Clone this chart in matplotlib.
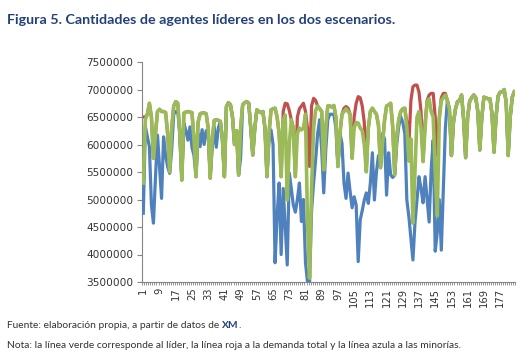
import matplotlib
matplotlib.use('Agg')
import matplotlib.pyplot as plt
import numpy as np

# ---------------- data (values in thousands) ----------------
categories = list(range(1, 185))

lider = [
    5300, 6450, 6550, 6750, 6500, 5750, 6200, 6600, 6640, 6600,
    6600, 6580, 6200, 5500, 6300, 6700, 6780, 6750, 6200, 5355,
    6570, 6590, 6600, 6590, 6580, 6100, 5415, 6400, 6555, 6575,
    6575, 6560, 6300, 5390, 6100, 6440, 6450, 6440, 6420, 6100,
    5415, 6690, 6760, 6720, 6500, 6000, 6250, 5445, 6300, 6720,
    6760, 6780, 6750, 6300, 5810, 6300, 6630, 6600, 6580, 6600,
    6300, 5415, 6200, 6630, 6650, 6660, 6500, 6200, 5415, 6445,
    6535, 4990, 6000, 6450, 6300, 5415, 6200, 6300, 6265, 6300,
    6550, 4600, 3570, 5200, 6300, 6620, 6700, 6650, 6600, 5540,
    6300, 6700, 6700, 6680, 6710, 6500, 5600, 6200, 6550, 6600,
    6650, 6600, 6550, 5750, 6300, 6400, 6390, 6300, 6250, 6000,
    5505, 6300, 6600, 6660, 6600, 6550, 6350, 5580, 6000, 6440,
    6700, 6720, 6750, 6330, 5450, 6140, 6450, 6600, 6650, 6660,
    6300, 5700, 6100, 4570, 5500, 6500, 6600, 6300, 5690, 6300,
    6780, 6830, 6600, 6500, 5500, 4700, 6460, 6800, 6850, 6900,
    6800, 6640, 5800, 6400, 6650, 6780, 6800, 6900, 6460, 5760,
    6500, 6790, 6850, 6900, 6850, 6600, 5900, 6500, 6860, 6850,
    6830, 6830, 6560, 5860, 6500, 6880, 6950, 6950, 7000, 6770,
    5800, 6500, 6860, 6960,
]

demanda_total = [
    6500, 6500, 6550, 6750, 6500, 5750, 6200, 6600, 6640, 6600,
    6600, 6580, 6200, 5500, 6300, 6700, 6780, 6750, 6200, 5355,
    6570, 6590, 6600, 6590, 6580, 6100, 5415, 6400, 6555, 6575,
    6575, 6560, 6300, 5390, 6100, 6440, 6450, 6440, 6420, 6100,
    5415, 6690, 6760, 6720, 6500, 6000, 6250, 5445, 6300, 6720,
    6760, 6780, 6750, 6300, 5810, 6300, 6630, 6600, 6580, 6600,
    6300, 5415, 6200, 6630, 6650, 6660, 6500, 6200, 5415, 6600,
    6750, 6740, 6620, 6450, 6300, 5415, 6500, 6650, 6700, 6750,
    6600, 6300, 5600, 6700, 6840, 6800, 6700, 6650, 6600, 5540,
    6300, 6700, 6700, 6680, 6710, 6500, 5600, 6200, 6550, 6660,
    6690, 6660, 6550, 5750, 6500, 6750, 6870, 6850, 6700, 6400,
    5505, 6300, 6600, 6660, 6600, 6550, 6350, 5580, 6000, 6440,
    6700, 6720, 6750, 6330, 5450, 6140, 6450, 6600, 6650, 6660,
    6400, 6000, 6800, 7050, 7080, 7080, 6950, 6600, 5690, 6400,
    6800, 6900, 6930, 6930, 6500, 5800, 6500, 6850, 6930, 6930,
    6800, 6640, 5800, 6400, 6650, 6780, 6800, 6900, 6460, 5760,
    6500, 6790, 6850, 6900, 6850, 6600, 5900, 6500, 6860, 6850,
    6830, 6830, 6560, 5860, 6500, 6880, 6950, 6950, 7000, 6770,
    5800, 6500, 6860, 6960,
]

minorias = [
    4750, 6325, 6140, 5960, 4900, 4570, 5400, 6170, 5600, 5020,
    6140, 5800, 5595, 5475, 5900, 6550, 6600, 6600, 6200, 5355,
    6390, 6250, 6080, 6320, 5950, 5800, 5415, 6200, 5960, 6270,
    6000, 6250, 6200, 5390, 5950, 6320, 5950, 6300, 6420, 6100,
    5415, 6690, 6760, 6720, 6500, 6000, 6250, 5445, 5750, 6720,
    6760, 6780, 6750, 6300, 5810, 6300, 6630, 6600, 6580, 6600,
    6300, 5415, 6100, 6265, 6000, 3850, 4700, 5300, 4000, 5200,
    4500, 3810, 5480, 5200, 4900, 4770, 5000, 5300, 4600, 5000,
    3850, 3500, 3480, 4800, 5300, 5720, 6200, 6450, 5900, 5120,
    5900, 6450, 6550, 6550, 6550, 6300, 5600, 6200, 6020, 5300,
    5020, 5480, 5150, 4850, 5050, 4900, 3870, 4630, 4800, 4990,
    5120, 4930, 5300, 5850, 4990, 5500, 5800, 5580, 6200, 6100,
    5080, 5850, 5450, 5400, 5445, 6000, 6330, 6505, 6400, 6200,
    4990, 4690, 4300, 3900, 4570, 5000, 5415, 5200, 4940, 5415,
    5000, 4590, 5540, 6080, 4060, 4400, 5000, 4080, 5200, 6300,
    6800, 6640, 5800, 6400, 6650, 6780, 6800, 6900, 6460, 5760,
    6500, 6790, 6850, 6900, 6850, 6600, 5900, 6500, 6860, 6850,
    6830, 6830, 6560, 5860, 6500, 6880, 6950, 6950, 7000, 6770,
    5800, 6500, 6860, 6960,
]

yticks = [3500000, 4000000, 4500000, 5000000, 5500000,
          6000000, 6500000, 7000000, 7500000]
label_cats = categories[::8]

title = "Figura 5. Cantidades de agentes líderes en los dos escenarios."
fuente = "Fuente: elaboración propia, a partir de datos de "
nota = ("Nota: la línea verde corresponde al líder, la línea roja a la "
        "demanda total y la línea azula a las minorías.")

# ---------------- figure ----------------
W, H = 530, 363
fig = plt.figure(figsize=(W / 100, H / 100), dpi=100)
ax = fig.add_axes([142.3 / W, 1 - 282 / H, 373 / W, 220 / H])

x = np.array(categories)
ax.plot(x, np.array(demanda_total) * 1000, color='#C0504D', lw=2.3,
        solid_joinstyle='round', zorder=2)
ax.plot(x, np.array(minorias) * 1000, color='#4F81BD', lw=2.3,
        solid_joinstyle='round', zorder=3)
ax.plot(x, np.array(lider) * 1000, color='#9BBB59', lw=2.6,
        solid_joinstyle='round', zorder=4)

ax.set_xlim(0.5, len(categories) + 0.5)
ax.set_ylim(yticks[0], yticks[-1])

axis_gray = '#868686'
for s in ['top', 'right']:
    ax.spines[s].set_visible(False)
for s in ['left', 'bottom']:
    ax.spines[s].set_color(axis_gray)
    ax.spines[s].set_linewidth(0.8)

ax.set_yticks(yticks)
ax.set_yticklabels([str(v) for v in yticks], fontsize=7.6,
                   family='DejaVu Sans', color='#333333')
ax.tick_params(axis='y', length=3.5, color=axis_gray, width=0.8, pad=3)

ax.set_xticks(label_cats)
ax.set_xticklabels([str(c) for c in label_cats], rotation=90,
                   fontsize=7.2, family='DejaVu Sans', color='#333333')
ax.set_xticks(np.arange(0.5, len(categories) + 1, 1), minor=True)
ax.tick_params(axis='x', which='major', length=0, pad=4)
ax.tick_params(axis='x', which='minor', length=2.5, color=axis_gray,
               width=0.6)

# ---------------- texts ----------------
fig.text(7 / W, 1 - 20 / H, title, fontsize=10.3, fontweight='bold',
         family='Lato', color='#24407a', va='center', ha='left')

fs = 7.4
t1 = fig.text(7 / W, 1 - 325 / H, fuente, fontsize=fs, family='Lato',
              color='#333333', va='center', ha='left')
t2 = fig.text(0, 0, "XM", fontsize=fs, family='Lato', fontweight='bold',
              color='#24407a', va='bottom', ha='left')
fig.canvas.draw()
r = fig.canvas.get_renderer()
bb = t1.get_window_extent(r)
t2.set_position((bb.x1 / W, bb.y0 / H))
fig.canvas.draw()
bb2 = t2.get_window_extent(r)
fig.text(bb2.x1 / W, bb2.y0 / H, ".", fontsize=fs, family='Lato',
         color='#333333', va='bottom', ha='left')

fig.text(7 / W, 1 - 346 / H, nota, fontsize=fs, family='Lato',
         color='#333333', va='center', ha='left')

fig.savefig('out.png', dpi=100)
